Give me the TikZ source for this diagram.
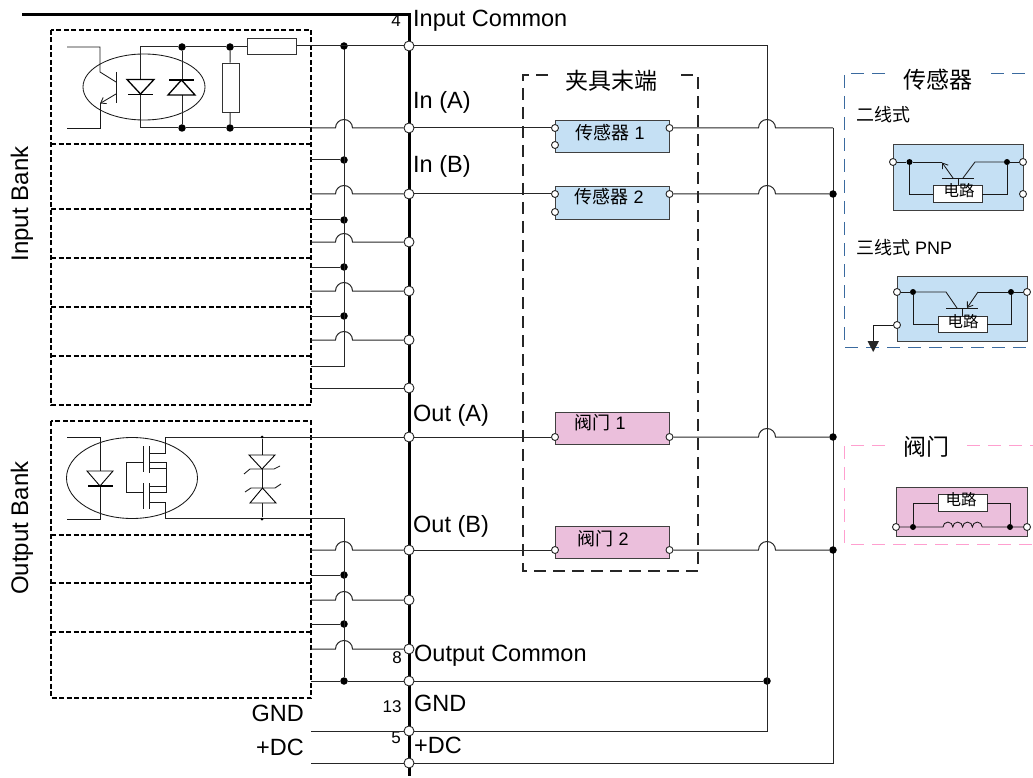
\documentclass[tikz,border=0pt]{standalone}
\usepackage{fontspec}
\setmainfont{Liberation Sans}
\newfontfamily\cjk{Noto Sans CJK SC}
\usetikzlibrary{arrows.meta,positioning,calc}
\definecolor{sensorfill}{HTML}{C5E0F4}
\definecolor{valvefill}{HTML}{EBBFDC}
\definecolor{sensordash}{HTML}{3A6A9F}
\definecolor{valvedash}{HTML}{FF9FCF}
\tikzset{
    wire/.style={line width=1pt,black!85},
    thinwire/.style={line width=.85pt,black!90},
    bus/.style={line width=3pt,black},
    bank box/.style={line width=1.3pt,black,dash pattern=on 5pt off 2.5pt},
    fixture box/.style={line width=1.1pt,black!85,dash pattern=on 12pt off 7pt},
    sensor panel/.style={line width=1pt,sensordash,dash pattern=on 13pt off 8pt},
    valve panel/.style={line width=1pt,valvedash,dash pattern=on 13pt off 8pt},
    term/.style={circle,draw=black!85,fill=white,line width=.9pt,inner sep=0pt,minimum size=10pt},
    smallterm/.style={term,minimum size=7pt},
    dot/.style={circle,fill=black,inner sep=0pt,minimum size=7.5pt},
    tinydot/.style={dot,minimum size=3pt},
    sensorbox/.style={draw=black!75,fill=sensorfill,line width=1pt,inner sep=0pt},
    valvebox/.style={draw=black!75,fill=valvefill,line width=1pt,inner sep=0pt},
    circuit/.style={draw=black!80,fill=white,line width=.9pt,inner sep=0pt,minimum width=49pt,minimum height=16.5pt},
    part/.style={draw=black!80,fill=white,line width=.9pt,inner sep=0pt},
    lab/.style={inner sep=0pt,anchor=base west,font=\fontsize{23.5}{26}\selectfont},
    bank/.style={inner sep=0pt,rotate=90,font=\fontsize{24}{26}\selectfont},
    num/.style={inner sep=0pt,font=\fontsize{17}{20}\selectfont},
    boxtext/.style={inner sep=0pt,font=\fontsize{18}{20}\selectfont},
    head/.style={inner sep=0pt,font=\cjk\fontsize{23}{26}\selectfont},
    sub/.style={inner sep=0pt,anchor=base west,font=\fontsize{18}{20}\selectfont},
    chiptext/.style={inner sep=0pt,font=\cjk\fontsize{15.5}{18}\selectfont},
    barb/.style={-{Straight Barb[length=5pt,width=7pt]},line width=.85pt,black!90},
}
\begin{document}
\begin{tikzpicture}[x=1pt,y=-1pt]
    \useasboundingbox (0,0) rectangle (1033,778);

    % main bus
    \draw[bus] (22,14.5) -- (409,14.5) -- (409,776);
    \foreach \y in {46,128,194,242,291,340,388,437,550,600,649,681,731,763}
        \node[term] (t\y) at (409,\y) {};

    % banks
    \draw[bank box] (51,30) rectangle (311,405);
    \foreach \y in {144,209,258,307,356}
        \draw[bank box] (51,\y) -- (311,\y);
    \draw[bank box] (51,421) rectangle (311,698);
    \foreach \y in {535,583,632}
        \draw[bank box] (51,\y) -- (311,\y);
    \node[bank] (inbank) at (22,204) {Input Bank};
    \node[bank] (outbank) at (22,528) {Output Bank};

    % common rails left of the bus
    \coordinate (rail top) at (344,46);
    \coordinate (rail end) at (344,366);
    \coordinate (orail top) at (344,518);
    \foreach \y in {160,220,267,316,575,624,681}
        \node[dot] (r\y) at (344,\y) {};
    \draw[wire] (rail top) -- (rail end) -- (311,366);
    \draw[wire] (orail top) -- (r681);
    \node[dot] at (rail top) {};
    \foreach \y in {160,220,267,316,575,624}
        \draw[wire] (311,\y) coordinate (st\y) -- (r\y);
    \foreach \y in {128,194,242,291,340,550,600,649}
        \draw[wire] (311,\y) coordinate (in\y) -- (335.5,\y) arc (180:0:8.5pt) -- (t\y);
    \draw[wire] (311,388) coordinate (in388) -- (t388);
    \draw[wire] (296,46) coordinate (res right) -- (t46);
    \draw[wire] (165,437) coordinate (fet top) -- (t437);
    \draw[wire] (165,518) coordinate (fet bot) -- (orail top);
    \draw[wire] (311,681) coordinate (in681) -- (r681) -- (t681);

    % input opto
    \begin{scope}
        \draw[thinwire] (144,87) ellipse [x radius=61,y radius=33];
        \draw[thinwire] (67,47) -- (100,47) -- (100,72) -- (116,82);
        \draw[thinwire] (116,72) -- (116,103);
        \draw[barb] (116,94) -- (100,103.5);
        \draw[thinwire] (100,103) -- (100,128) -- (67,128);
        \node[dot] (d1) at (182,47) {};
        \node[dot] (d2) at (230,47) {};
        \node[dot] (d3) at (182,128) {};
        \node[dot] (d4) at (230,128) {};
        \draw[wire] (140.5,128) -- (140.5,47) -- (d1) -- (d2) -- (247,47);
        \draw[wire] (140.5,128) -- (d3) -- (d4) -- (in128);
        \draw[wire] (d1) -- (d3);
        \node[part,minimum width=17pt,minimum height=49pt] (rv) at (230.5,87.5) {};
        \draw[wire] (d2) -- (rv) (rv) -- (d4);
        \node[part,minimum width=49pt,minimum height=16pt] (rh) at (271.5,46) {};
        \draw[line width=1.3pt,fill=white] (127,79.5) -- (154,79.5) -- (140.5,94) -- cycle;
        \draw[line width=1.3pt] (128,94.5) -- (153,94.5);
        \draw[line width=1.3pt,fill=white] (168,95) -- (195,95) -- (181.5,80) -- cycle;
        \draw[line width=1.3pt] (169,80) -- (194,80);
    \end{scope}

    % output opto and fet
    \begin{scope}
        \draw[thinwire] (132,478) ellipse [x radius=65.5,y radius=40.5];
        \draw[thinwire] (67,437) -- (100,437) -- (100,519) -- (67,519);
        \draw[line width=.9pt,fill=white] (87,471) -- (113,471) -- (100,486) -- cycle;
        \draw[line width=1.4pt] (88,486) -- (112.5,486);
        \draw[thinwire] (fet top) -- (165,453) -- (149,453);
        \draw[thinwire] (149,462) -- (166,462) -- (166,492) -- (149,492);
        \draw[thinwire] (149,468) -- (166,468);
        \draw[thinwire] (149,486) -- (166,486);
        \draw[thinwire] (149,502) -- (165,502) -- (fet bot);
        \draw[thinwire] (143,446) -- (143,472) (149.3,446) -- (149.3,473);
        \draw[thinwire] (143,483) -- (143,509) (149.3,483) -- (149.3,509);
        \draw[thinwire] (143,462) -- (126.7,462) -- (126.7,492) -- (143,492);
        % tvs pair
        \node[tinydot] (v1) at (262,437) {};
        \node[tinydot] (v2) at (262,519) {};
        \draw[thinwire] (v1) -- (v2);
        \draw[line width=.9pt,fill=white] (249,455) -- (275,455) -- (262,469) -- cycle;
        \draw[thinwire] (244,474) -- (250,469) -- (274,469) -- (280,466);
        \draw[line width=.9pt,fill=white] (250,503) -- (276,503) -- (262.5,488) -- cycle;
        \draw[thinwire] (245,492) -- (251,488) -- (275,488) -- (281,484);
    \end{scope}

    % bus labels
    \node[num] (n4) at (396,21) {4};
    \node[lab] (l1) at (413,27) {Input Common};
    \node[lab] (l2) at (413,109) {In (A)};
    \node[lab] (l3) at (413,173) {In (B)};
    \node[lab] (l4) at (413,421) {Out (A)};
    \node[lab] (l5) at (413,532) {Out (B)};
    \node[num] (n8) at (397,658) {8};
    \node[lab] (l6) at (414,661) {Output Common};
    \node[num] (n13) at (392,707) {13};
    \node[lab] (l7) at (414,711) {GND};
    \node[num] (n5) at (396,738) {5};
    \node[lab] (l8) at (414,753) {+DC};
    \node[lab,anchor=base east] (l9) at (304,721) {GND};
    \node[lab,anchor=base east] (l10) at (304,755) {+DC};

    % fixture end
    \draw[fixture box] (548,75) -- (523,75) -- (523,571) -- (698,571) -- (698,75) -- (680,75);
    \node[head] (fix) at (611,81) {夹具末端};
    \node[sensorbox,minimum width=114.5pt,minimum height=32pt] (s1) at (612.5,137) {};
    \node[sensorbox,minimum width=114.5pt,minimum height=33pt] (s2) at (612.5,203.5) {};
    \node[valvebox,minimum width=114.5pt,minimum height=32pt] (v1box) at (612.5,428) {};
    \node[valvebox,minimum width=114.5pt,minimum height=32pt] (v2box) at (612.5,542) {};
    \node[boxtext] at (610,133) (s1txt) {{\cjk 传感器} 1};
    \node[boxtext] at (609,197) (s2txt) {{\cjk 传感器} 2};
    \node[boxtext] at (600,423) (v1txt) {{\cjk 阀门} 1};
    \node[boxtext] at (603,539) (v2txt) {{\cjk 阀门} 2};
    \foreach \y in {128,194,437,550} {
        \node[smallterm] (a\y) at (555,\y) {};
        \node[smallterm] (b\y) at (669.5,\y) {};
        \draw[wire] (t\y) -- (a\y);
    }
    \node[smallterm] (a145) at (555,145) {};
    \node[smallterm] (a212) at (555,212) {};

    % right hand rails
    \node[dot] (g681) at (767,681) {};
    \coordinate (gnd top) at (767,46);
    \coordinate (gnd end) at (767,731);
    \coordinate (dc top) at (833,128);
    \coordinate (dc end) at (833,763);
    \draw[wire] (t46) -- (gnd top) -- (gnd end) -- (t731);
    \draw[wire] (311,731) coordinate (gl) -- (t731);
    \draw[wire] (t681) -- (g681);
    \draw[wire] (311,763) coordinate (dl) -- (t763) -- (dc end) -- (dc top);
    \node[dot] (c194) at (833,194) {};
    \node[dot] (c437) at (833,437) {};
    \node[dot] (c550) at (833,550) {};
    \draw[wire] (b128) -- (758.5,128) arc (180:0:8.5pt) -- (dc top);
    \foreach \y in {194,437,550}
        \draw[wire] (b\y) -- (758.5,\y) arc (180:0:8.5pt) -- (c\y);

    % sensor panel
    \draw[sensor panel] (885,74) -- (844,74) -- (844,347) -- (1033,347);
    \draw[sensor panel] (991,74) -- (1033,74);
    \node[head] (senshead) at (938,80) {传感器};
    \node[sub,font=\cjk\fontsize{18}{20}\selectfont] (two) at (856,122) {二线式};
    \node[sub] (three) at (856,254) {{\cjk 三线式} PNP};

    \begin{scope}
        \node[sensorbox,minimum width=130pt,minimum height=66pt] (tw) at (958,178) {};
        \node[smallterm] (tw1) at (893,162) {};
        \node[smallterm] (tw2) at (1023,162) {};
        \node[smallterm] (tw3) at (1023,194) {};
        \node[dot,minimum size=6pt] (twa) at (909.5,162) {};
        \node[dot,minimum size=6pt] (twb) at (1007,162) {};
        \node[circuit] (twc) at (957.5,194) {};
        \node[chiptext] at (959,191) (twt) {电路};
        \draw[thinwire] (tw1) -- (twa) -- (twc.west -| twa) -- (twc.west);
        \draw[thinwire] (twc.east) -- (twc.east -| twb) -- (twb) -- (tw2);
        \draw[thinwire] (942,178) -- (974,178);
        \draw[thinwire] (958,178) -- (twc.north -| 958,0);
        \draw[barb] (953,178) -- (942,162.5);
        \draw[thinwire] (twa) -- (942,162);
        \draw[thinwire] (963,178) -- (975,162) -- (twb);
    \end{scope}

    \begin{scope}
        \node[sensorbox,minimum width=130pt,minimum height=65pt] (th) at (962,308.5) {};
        \node[smallterm] (th1) at (897,292) {};
        \node[smallterm] (th2) at (1027,292) {};
        \node[smallterm] (th3) at (897,325) {};
        \node[dot,minimum size=6pt] (tha) at (913,292) {};
        \node[dot,minimum size=6pt] (thb) at (1011,292) {};
        \node[circuit] (thc) at (962.5,324.5) {};
        \node[chiptext] at (963,322) (tht) {电路};
        \draw[thinwire] (th1) -- (tha) -- (thc.west -| tha) -- (thc.west);
        \draw[thinwire] (thc.east) -- (thc.east -| thb) -- (thb) -- (th2);
        \draw[thinwire] (946,308) -- (978,308);
        \draw[thinwire] (962,308) -- (thc.north -| 962,0);
        \draw[thinwire] (tha) -- (946,292) -- (957,308);
        \draw[thinwire] (thb) -- (978,292);
        \draw[barb] (978,292) -- (967,308);
        \coordinate (ground) at (873,341);
        \draw[thinwire] (th3) -- (ground |- th3) -- (ground);
        \fill[black!85] (867.5,341) -- (879,341) -- (873.2,352) -- cycle;
    \end{scope}

    % valve panel
    \draw[valve panel] (885,445) -- (844,445) -- (844,544) -- (1033,544);
    \draw[valve panel] (967,445) -- (1033,445);
    \node[head] (valvehead) at (926,447) {阀门};
    \begin{scope}
        \node[valvebox,minimum width=131pt,minimum height=49pt] (vv) at (961.5,511.5) {};
        \node[smallterm] (vv1) at (896,527) {};
        \node[smallterm] (vv2) at (1027,527) {};
        \node[dot,minimum size=6pt] (vva) at (913,527) {};
        \node[dot,minimum size=6pt] (vvb) at (1010,527) {};
        \node[circuit] (vvc) at (962.5,503) {};
        \node[chiptext] at (961,500) (vvt) {电路};
        \draw[thinwire] (vva) -- (vvc.west -| vva) -- (vvc.west);
        \draw[thinwire] (vvc.east) -- (vvc.east -| vvb) -- (vvb);
        \draw[thinwire] (vv1) -- (vva) -- (943,527)
            arc (180:0:4.9pt) arc (180:0:4.9pt) arc (180:0:4.9pt) arc (180:0:4.9pt)
            -- (vvb) -- (vv2);
    \end{scope}
\end{tikzpicture}
\end{document}
